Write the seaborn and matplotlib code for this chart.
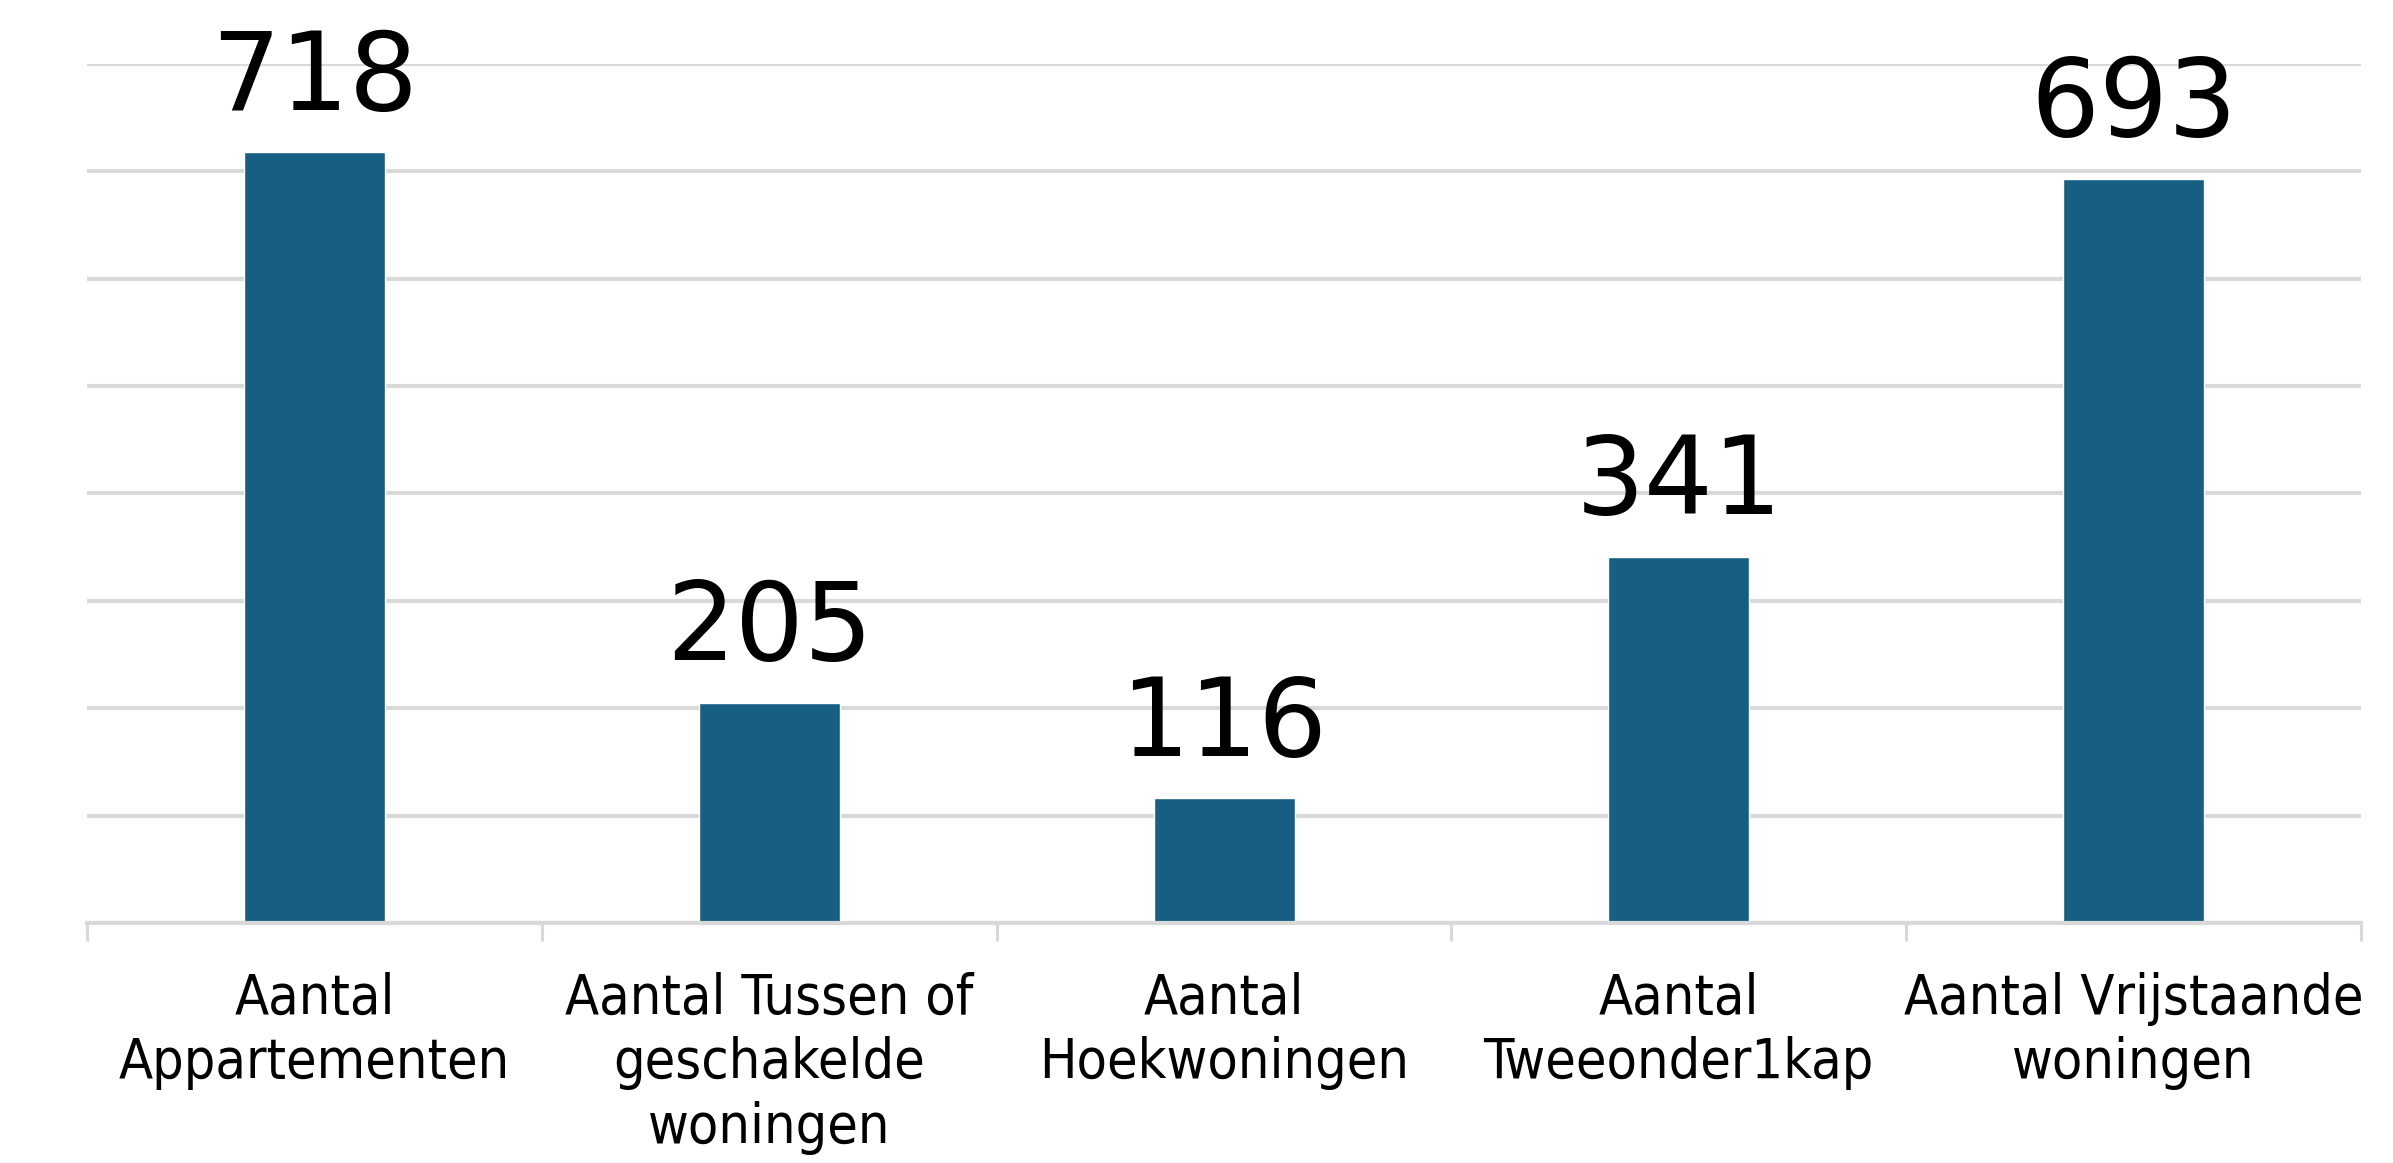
import matplotlib
matplotlib.use("Agg")
import matplotlib.pyplot as plt
import seaborn as sns
import pandas as pd
from matplotlib.ticker import FixedLocator

sns.set_theme(style="white")
plt.rcParams['font.family'] = ['DejaVu Sans']

# data
categories = ["Aantal\nAppartementen", "Aantal Tussen of\ngeschakelde\nwoningen",
              "Aantal\nHoekwoningen", "Aantal\nTweeonder1kap",
              "Aantal Vrijstaande\nwoningen"]
values = [718, 205, 116, 341, 693]

df = pd.DataFrame({"cat": categories, "val": values})

fig = plt.figure(figsize=(23.93, 11.63), dpi=100)
ax = fig.add_axes([0.0364, 0.2064, 0.9502, 0.7386])

sns.barplot(data=df, x="cat", y="val", color="#175F82", width=0.31,
            saturation=1, ax=ax, zorder=3)

ax.set_ylim(0, 800)
ax.set_xlim(-0.5, 4.5)
ax.set_yticks(range(0, 801, 100))
ax.set_yticklabels([])
ax.tick_params(axis="y", length=0)
ax.yaxis.grid(True, color="#D9D9D9", linewidth=3, zorder=0)
ax.set_axisbelow(True)

for s in ["top", "right", "left"]:
    ax.spines[s].set_visible(False)
ax.spines["bottom"].set_color("#D9D9D9")
ax.spines["bottom"].set_linewidth(3)
ax.spines["bottom"].set_zorder(4)

# tick marks between categories
ax.xaxis.set_minor_locator(FixedLocator([-0.5, 0.5, 1.5, 2.5, 3.5, 4.5]))
ax.tick_params(axis="x", which="minor", length=13, width=2.2, color="#D9D9D9", bottom=True)
ax.tick_params(axis="x", which="major", length=0, pad=35, labelsize=40, labelcolor="black")
for lbl in ax.get_xticklabels():
    lbl.set_fontstretch("condensed")
    lbl.set_linespacing(1.26)
    lbl.set_verticalalignment("top")

ax.set_xlabel("")
ax.set_ylabel("")

# value labels
for i, v in enumerate(values):
    ax.annotate(str(v), (i, v), xytext=(0, 14), textcoords="offset points",
                ha="center", va="bottom", fontsize=78, color="black")

plt.savefig("out.png", dpi=100)
